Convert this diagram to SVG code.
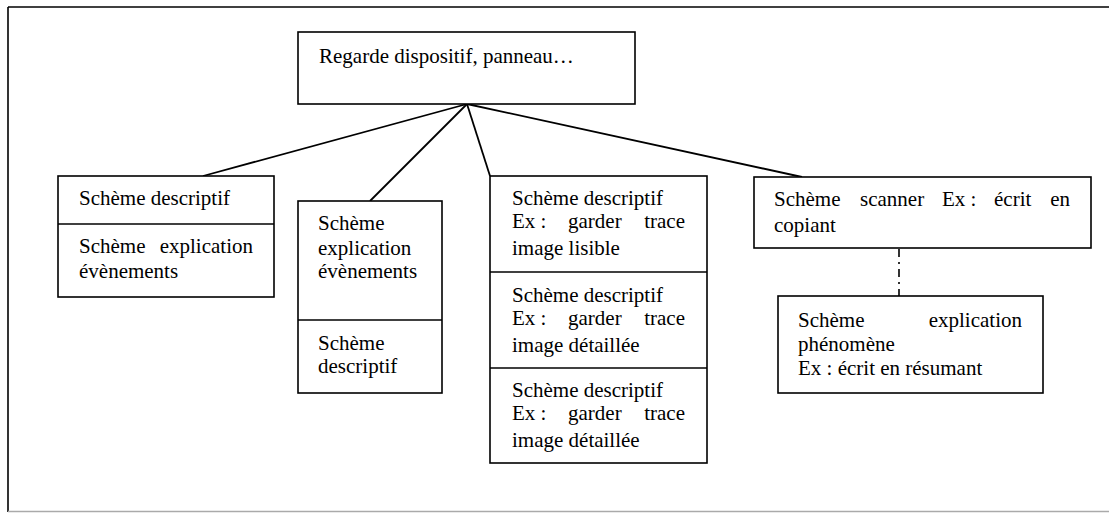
<svg xmlns="http://www.w3.org/2000/svg" width="1109" height="513" viewBox="0 0 1109 513">
<style>
.b{fill:#fff;stroke:#000;stroke-width:1.6}
.d{stroke:#000;stroke-width:1.6}
.c{stroke:#000;stroke-width:1.8;fill:none}
.t{font-size:21px;fill:#000}
.e{text-anchor:end}
</style>
<rect width="1109" height="513" fill="#fff"/>
<g id="frame">
<line x1="8" y1="7" x2="1109" y2="7" class="d"/>
<line x1="8" y1="7" x2="8" y2="512" class="d"/>
<line x1="8" y1="511.5" x2="1109" y2="511.5" stroke="#aaa" stroke-width="1.5"/>
</g>
<g id="connectors">
<line x1="467" y1="104" x2="203" y2="176" class="c"/>
<line x1="467" y1="104" x2="370" y2="201" class="c"/>
<line x1="467" y1="104" x2="490" y2="176" class="c"/>
<line x1="467" y1="104" x2="802" y2="177" class="c"/>
<line x1="899" y1="249" x2="899" y2="296" stroke="#000" stroke-width="1.6" stroke-dasharray="8 5 2 5"/>
</g>
<g class="t" font-family="Liberation Serif, serif">
<g id="root">
<rect x="298" y="32" width="337" height="72" class="b"/>
<text x="319" y="63">Regarde dispositif, panneau…</text>
</g>
<g id="n1">
<rect x="58" y="176" width="216" height="121" class="b"/>
<line x1="58" y1="224" x2="274" y2="224" class="d"/>
<text x="79" y="205">Schème descriptif</text>
<text x="79" y="253">Schème</text><text x="253" y="253" class="e">explication</text>
<text x="79" y="278">évènements</text>
</g>
<g id="n2">
<rect x="298" y="201" width="144" height="192" class="b"/>
<line x1="298" y1="320" x2="442" y2="320" class="d"/>
<text x="318" y="230">Schème</text>
<text x="318" y="255">explication</text>
<text x="318" y="278">évènements</text>
<text x="318" y="350">Schème</text>
<text x="318" y="373">descriptif</text>
</g>
<g id="n3">
<rect x="490" y="176" width="217" height="287" class="b"/>
<line x1="490" y1="272" x2="707" y2="272" class="d"/>
<line x1="490" y1="368" x2="707" y2="368" class="d"/>
<text x="512" y="205">Schème descriptif</text>
<text x="512" y="228">Ex :</text><text x="568" y="228">garder</text><text x="685" y="228" class="e">trace</text>
<text x="512" y="255">image lisible</text>
<text x="512" y="302">Schème descriptif</text>
<text x="512" y="325">Ex :</text><text x="568" y="325">garder</text><text x="685" y="325" class="e">trace</text>
<text x="512" y="352">image détaillée</text>
<text x="512" y="397">Schème descriptif</text>
<text x="512" y="420">Ex :</text><text x="568" y="420">garder</text><text x="685" y="420" class="e">trace</text>
<text x="512" y="447">image détaillée</text>
</g>
<g id="n4">
<rect x="754" y="177" width="337" height="71" class="b"/>
<text x="774" y="206">Schème</text><text x="860" y="206">scanner</text><text x="942" y="206">Ex :</text><text x="994" y="206">écrit</text><text x="1070" y="206" class="e">en</text>
<text x="774" y="232">copiant</text>
</g>
<g id="n5">
<rect x="778" y="296" width="265" height="97" class="b"/>
<text x="798" y="327">Schème</text><text x="1022" y="327" class="e">explication</text>
<text x="798" y="351">phénomène</text>
<text x="798" y="375">Ex : écrit en résumant</text>
</g>
</g>
</svg>
